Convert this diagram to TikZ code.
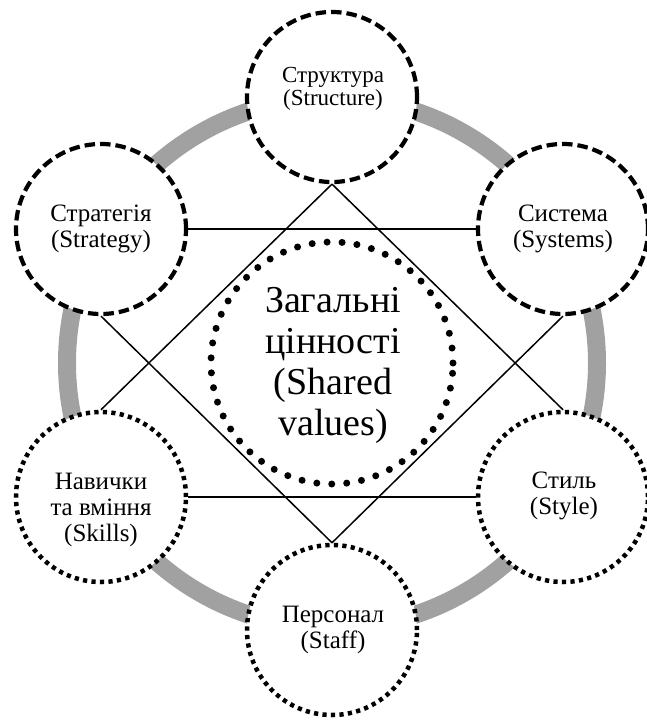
\documentclass[tikz,border=0pt]{standalone}
\usepackage{fontspec}
\setmainfont{Liberation Serif}
\begin{document}
\begin{tikzpicture}[x=1pt,y=-1pt,
  ring/.style={line width=18pt,draw=black!37},
  dashcircle/.style={circle,draw=black,fill=white,line width=4.2pt,
     dash pattern=on 10.5pt off 5pt,minimum size=170pt,inner sep=0pt},
  dotcircle/.style={circle,draw=black,fill=white,line width=4.5pt,
     dash pattern=on 4.2pt off 4.3pt,minimum size=170pt,inner sep=0pt},
  bigdots/.style={circle,draw=black,line width=7pt,line cap=round,
     dash pattern=on 0pt off 15pt,minimum size=242pt,inner sep=0pt},
  lbl/.style={align=center,font=\fontsize{25}{26}\selectfont,inner sep=0pt},
  link/.style={line width=1.5pt,draw=black}
]
\useasboundingbox (0,0) rectangle (647,720);
\coordinate (c) at (332,363);
\draw[ring] (c) circle[radius=265pt];

\node[dashcircle] (str) at (332,97) {};
\node[dashcircle] (stg) at (101,229) {};
\node[dashcircle] (sys) at (563,229) {};
\node[dotcircle] (skl) at (101,497) {};
\node[dotcircle] (sty) at (563,497) {};
\node[dotcircle] (stf) at (332,630) {};
\node[bigdots] (val) at (c) {};

\draw[link] (str.south) -- (skl.north);
\draw[link] (str.south) -- (sty.north);
\draw[link] (stg.south) -- (stf.north);
\draw[link] (sys.south) -- (stf.north);
\draw[link] (stg.east) -- (sys.west);
\draw[link] (skl.east) -- (sty.west);

\node[lbl,font=\fontsize{23}{23}\selectfont] (strt) at (333,89) {Структура\\(Structure)};
\node[lbl] (stgt) at (101,229) {Стратегія\\(Strategy)};
\node[lbl] (syst) at (563,229) {Система\\(Systems)};
\node[lbl] (sklt) at (101,510) {Навички\\та вміння\\(Skills)};
\node[lbl] (styt) at (564,496) {Стиль\\(Style)};
\node[lbl] (stft) at (333,630) {Персонал\\(Staff)};
\node[lbl,font=\fontsize{38}{41}\selectfont] (valt) at (333,365) {Загальні\\цінності\\(Shared\\values)};
\end{tikzpicture}
\end{document}
